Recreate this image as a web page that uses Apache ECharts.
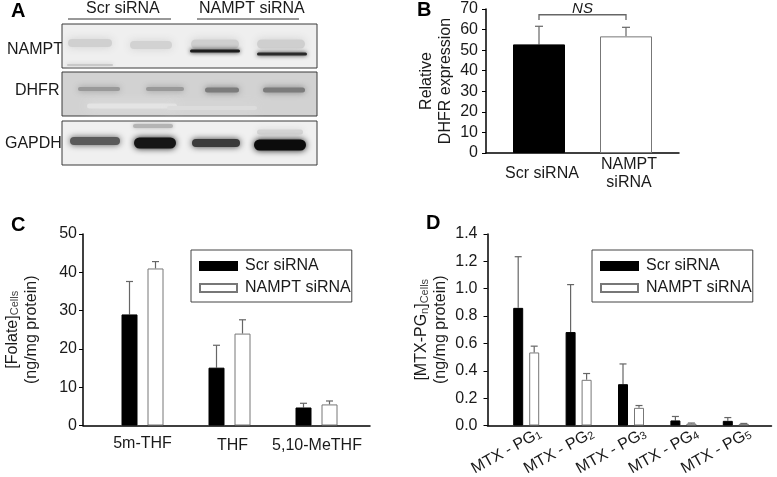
<!DOCTYPE html>
<html><head><meta charset="utf-8">
<style>html,body{margin:0;padding:0;background:#fff}#c{width:777px;height:477px}</style>
<script src="https://cdn.jsdelivr.net/npm/echarts@6/dist/echarts.min.js"></script>
</head><body><div id="c"></div>
<script>
// ---------- data ----------
const seriesNames = ['Scr siRNA', 'NAMPT siRNA'];
const bCats = ['Scr siRNA', 'NAMPT\nsiRNA'];
const bVals = [52.8, 56.7];
const bErr = [61.6, 61.1];
const cCats = ['5m-THF', { value: 'THF', textStyle: { padding: [2, 0, 0, 6] } }, { value: '5,10-MeTHF', textStyle: { padding: [2, 0, 0, 1] } }];
const cScr = [29.0, 15.1, 4.7];
const cScrErr = [37.6, 20.95, 5.8];
const cNampt = [41.0, 24.0, 5.5];
const cNamptErr = [42.8, 27.6, 6.4];
const dCats = ['1', '2', '3', '4', '5'];
const dScr = [0.86, 0.683, 0.302, 0.037, 0.034];
const dScrErr = [1.234, 1.03, 0.45, 0.066, 0.058];
const dNampt = [0.534, 0.334, 0.129, 0.014, 0.012];
const dNamptErr = [0.58, 0.38, 0.146, 0.018, 0.015];
// blot panels: [left, top, right, bottom, fill]
const blotFrames = [
  [0, 0, 255, 44, '#efefef'],
  [0, 48, 255, 92, '#d2d2d2'],
  [0, 97, 255, 141, '#f0f0f0']
];
// blot glow patches and bands: [centre x, centre y, width, height, colour, blur]
const blotBands = [
  [70, 82, 90, 5, '#e4e4e4', 6], [150, 84, 90, 4, '#dcdcdc', 6],
  [28, 19, 44, 8, '#d0d0d0', 4], [89, 21, 42, 8, '#d2d2d2', 4],
  [153, 20, 48, 9, '#cfcfcf', 4], [219, 20, 48, 9, '#cfcfcf', 4],
  [28, 41, 46, 2, '#c8c8c8', 2], [153, 27, 50, 3, '#1c1c1c', 2], [220, 30, 50, 3, '#2a2a2a', 2],
  [37, 65, 42, 4, '#999999', 3], [103, 65, 38, 4, '#999999', 3],
  [160, 66, 34, 5, '#7c7c7c', 3], [222, 66, 42, 5, '#7c7c7c', 3],
  [91, 102, 40, 4, '#b4b4b4', 2], [218, 108, 46, 5, '#d4d4d4', 3],
  [33, 117, 50, 8, '#5a5a5a', 3], [93, 119, 42, 11, '#161616', 3],
  [154, 119, 48, 8, '#3a3a3a', 3], [218, 121, 52, 11, '#0c0c0c', 3]
];

// ---------- helpers ----------
const FONT = '"Liberation Sans", Arial, sans-serif';
const TXT = '#1a1a1a';
const BLACK = { color: '#000', borderColor: '#000', borderWidth: 1 };
const WHITE = { color: '#fff', borderColor: '#777', borderWidth: 1 };

function errSeries(idx, means, tops, dx, capHalf) {
  return {
    type: 'custom', xAxisIndex: idx, yAxisIndex: idx, silent: true, z: 1,
    data: means.map((m, i) => [i, m, tops[i]]),
    renderItem(p, api) {
      const a = api.coord([api.value(0), api.value(1)]);
      const b = api.coord([api.value(0), api.value(2)]);
      const x = a[0] + dx;
      return { type: 'group', children: [
        { type: 'line', shape: { x1: x, y1: a[1], x2: x, y2: b[1] }, style: { stroke: '#666', lineWidth: 1.2 } },
        { type: 'line', shape: { x1: x - capHalf, y1: b[1], x2: x + capHalf, y2: b[1] }, style: { stroke: '#666', lineWidth: 1.2 } }
      ] };
    }
  };
}
const plainAxisLine = { show: true, onZero: false, lineStyle: { color: '#000', width: 1.5 } };
function frameX(grid) {
  return { type: 'category', gridIndex: grid, data: [''], axisLine: plainAxisLine, axisTick: { show: false }, axisLabel: { show: false } };
}
function frameY(grid, max, interval, name, gap, margin, fmt) {
  return {
    type: 'value', gridIndex: grid, min: 0, max, interval, splitLine: { show: false },
    axisLine: plainAxisLine, axisTick: { show: true, length: 4, lineStyle: { color: '#000', width: 1 } },
    axisLabel: { color: TXT, fontFamily: FONT, fontSize: 16, margin, formatter: fmt },
    name, nameLocation: 'middle', nameGap: gap, nameMoveOverlap: false,
    nameTextStyle: { color: TXT, fontFamily: FONT, fontSize: 16, lineHeight: 19, rich: {
      a: { fontFamily: FONT, fontSize: 16, color: TXT, lineHeight: 19, verticalAlign: 'bottom' },
      s: { fontFamily: FONT, fontSize: 11, color: '#444', lineHeight: 19, verticalAlign: 'bottom' }
    } }
  };
}
function hiddenY(grid, max, interval) {
  return { type: 'value', gridIndex: grid, min: 0, max, interval, show: false, splitLine: { show: false } };
}
function legend(left) {
  return {
    left, top: 250, orient: 'vertical', data: seriesNames, itemWidth: 37, itemHeight: 8, itemGap: 4,
    padding: [7, 1, 5, 8], borderColor: '#444', borderWidth: 1, backgroundColor: '#fff', selectedMode: false,
    inactiveColor: '#000', icon: 'rect',
    textStyle: { color: TXT, fontFamily: FONT, fontSize: 16, lineHeight: 18, padding: [0, 0, 0, 3] }
  };
}
const letter = (text, left, top) => ({ type: 'text', left, top, style: { text, font: 'bold 20px ' + FONT, fill: '#000' } });
const label = (text, left, top, size) => ({ type: 'text', left, top, style: { text, font: (size || 16) + 'px ' + FONT, fill: TXT } });
const hrule = (x1, x2, y) => ({ type: 'line', shape: { x1, y1: y, x2, y2: y }, style: { stroke: '#333', lineWidth: 1 } });
const G = (left, top, width, height) => ({ left, top, width, height, outerBoundsMode: 'none' });

// Grid indices: 0 blot; 1 B frame; 2 B bars; 3 C frame; 4 C bars; 5 D frame; 6 D bars; 7 D labels
const option = {
  backgroundColor: '#fff',
  animation: false,
  legend: [legend(191), legend(592)],
  grid: [
    G(62, 24, 255, 141),
    G(486, 9, 193, 144),
    G(495.5, 9, 174, 144),
    G(83, 234, 287, 191.5),
    G(99, 234, 261, 191.5),
    G(487.5, 234, 284, 191.5),
    G(500, 234, 262, 191.5),
    G(514, 234, 262, 191.5)
  ],
  xAxis: [
    { type: 'value', gridIndex: 0, min: 0, max: 255, show: false },
    frameX(1),
    { type: 'category', gridIndex: 2, data: bCats, axisLine: { show: false }, axisTick: { show: false },
      axisLabel: { color: TXT, fontFamily: FONT, fontSize: 16, lineHeight: 18, margin: 21, verticalAlign: 'middle', interval: 0, padding: [0, 0, 0, 6] } },
    frameX(3),
    { type: 'category', gridIndex: 4, data: cCats, axisLine: { show: false }, axisTick: { show: false },
      axisLabel: { color: TXT, fontFamily: FONT, fontSize: 16, margin: 10, interval: 0 } },
    frameX(5),
    { type: 'category', gridIndex: 6, data: dCats, axisLine: { show: false }, axisTick: { show: false }, axisLabel: { show: false } },
    { type: 'category', gridIndex: 7, data: dCats, axisLine: { show: false }, axisTick: { show: false },
      axisLabel: { interval: 0, rotate: 29, margin: 7, hideOverlap: false, formatter: v => '{a|MTX - PG}{s|' + v + '}',
        rich: { a: { fontFamily: FONT, fontSize: 16, color: TXT, verticalAlign: 'bottom' },
                s: { fontFamily: FONT, fontSize: 11, color: TXT, verticalAlign: 'bottom' } } } }
  ],
  yAxis: [
    { type: 'value', gridIndex: 0, min: 0, max: 141, inverse: true, show: false },
    frameY(1, 70, 10, '{a|Relative}\n{a|DHFR expression}', 32.5, 8),
    hiddenY(2, 70, 10),
    frameY(3, 50, 10, '{a|[Folate]}{s|Cells}\n{a|(ng/mg protein)}', 43.5, 6),
    hiddenY(4, 50, 10),
    frameY(5, 1.4, 0.2, '{a|[MTX-PG}{s|n}{a|]}{s|Cells}\n{a|(ng/mg protein)}', 38.5, 10, v => v.toFixed(1)),
    hiddenY(6, 1.4, 0.2),
    hiddenY(7, 1.4, 0.2)
  ],
  series: [
    // Panel A blots
    { type: 'custom', xAxisIndex: 0, yAxisIndex: 0, silent: true, z: 1, data: blotFrames,
      renderItem(p, api) {
        const a = api.coord([api.value(0), api.value(1)]), b = api.coord([api.value(2), api.value(3)]);
        const f = blotFrames[p.dataIndex][4];
        return { type: 'rect', shape: { x: a[0], y: a[1], width: b[0] - a[0], height: b[1] - a[1] },
          style: { fill: f, stroke: '#3a3a3a', lineWidth: 1 } };
      } },
    { type: 'custom', xAxisIndex: 0, yAxisIndex: 0, silent: true, z: 2, data: blotBands,
      renderItem(p, api) {
        const c = api.coord([api.value(0), api.value(1)]);
        const d = blotBands[p.dataIndex];
        const s = api.size([api.value(2), api.value(3)]);
        return { type: 'rect', shape: { x: c[0] - s[0] / 2, y: c[1] - s[1] / 2, width: s[0], height: s[1], r: s[1] / 2 },
          style: { fill: d[4], shadowColor: d[4], shadowBlur: d[5] * 2 } };
      } },
    // Panel B
    { type: 'bar', name: 'B', xAxisIndex: 2, yAxisIndex: 2, barWidth: 52, z: 2,
      data: bVals.map((v, i) => ({ value: v, itemStyle: i ? WHITE : BLACK })) },
    errSeries(2, bVals, bErr, 0, 4),
    { type: 'custom', xAxisIndex: 2, yAxisIndex: 2, silent: true, z: 3, data: [[0, 1, 64.7, 67.2]],
      renderItem(p, api) {
        const a = api.coord([api.value(0), api.value(2)]), b = api.coord([api.value(1), api.value(3)]);
        return { type: 'group', children: [
          { type: 'polyline', shape: { points: [[a[0], a[1]], [a[0], b[1]], [b[0], b[1]], [b[0], a[1]]] }, style: { fill: null, stroke: '#666', lineWidth: 1.3 } },
          { type: 'text', style: { text: 'NS', x: (a[0] + b[0]) / 2, y: b[1] - 6, align: 'center', verticalAlign: 'middle', font: 'italic 15px ' + FONT, fill: TXT } }
        ] };
      } },
    // Panel C
    { type: 'bar', name: seriesNames[0], xAxisIndex: 4, yAxisIndex: 4, barWidth: 16, barGap: '62.5%', itemStyle: BLACK, data: cScr, z: 2 },
    { type: 'bar', name: seriesNames[1], xAxisIndex: 4, yAxisIndex: 4, barWidth: 16, barGap: '62.5%', itemStyle: WHITE, data: cNampt, z: 2 },
    errSeries(4, cScr, cScrErr, -13, 3.5),
    errSeries(4, cNampt, cNamptErr, 13, 3.5),
    // Panel D
    { type: 'bar', name: seriesNames[0], xAxisIndex: 6, yAxisIndex: 6, barWidth: 10, barGap: '60%', itemStyle: BLACK, data: dScr, z: 2 },
    { type: 'bar', name: seriesNames[1], xAxisIndex: 6, yAxisIndex: 6, barWidth: 10, barGap: '60%', itemStyle: WHITE, data: dNampt, z: 2 },
    errSeries(6, dScr, dScrErr, -8, 3.5),
    errSeries(6, dNampt, dNamptErr, 8, 3.5)
  ],
  graphic: [
    letter('A', 11, 1), letter('B', 417, 0), letter('C', 11, 215), letter('D', 426, 213),
    label('Scr siRNA', 86, 1), label('NAMPT siRNA', 199, 1),
    hrule(68, 171, 19), hrule(197, 299, 19),
    label('NAMPT', 7, 42), label('DHFR', 15, 83), label('GAPDH', 5, 136)
  ]
};
const chart = echarts.init(document.getElementById('c'), null, { renderer: 'canvas', width: 777, height: 477 });
chart.setOption(option);
</script></body></html>
